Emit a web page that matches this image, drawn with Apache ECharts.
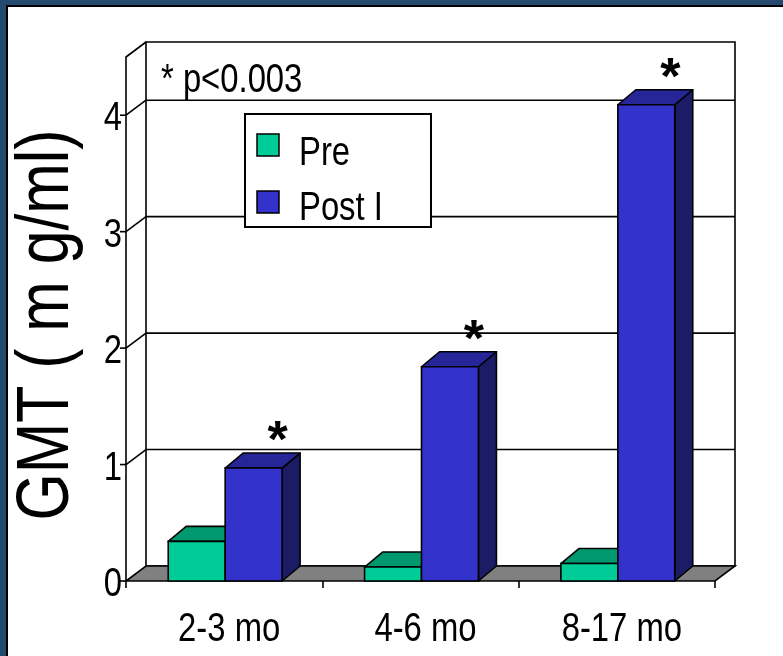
<!DOCTYPE html>
<html>
<head>
<meta charset="utf-8">
<script src="https://cdn.jsdelivr.net/npm/echarts@6/dist/echarts.min.js"></script>
<style>
  html, body { margin: 0; padding: 0; background: #ffffff; }
  #chart { width: 783px; height: 656px; }
</style>
</head>
<body>
<div id="chart"></div>
<script>
// Age groups and geometric mean titres before and after the first dose
const categories = ['2-3 mo', '4-6 mo', '8-17 mo'];
const preValues = [0.34, 0.12, 0.15];
const postValues = [0.97, 1.84, 4.09];
const yTicks = [0, 1, 2, 3, 4];
const yMax = 4.5;
const seriesNames = ['Pre', 'Post I'];
const yTitle = 'GMT ( m g/ml)';
const noteText = '* p<0.003';
const starText = '*';

const FONT = '"Liberation Sans", Arial, sans-serif';
const NARROW = 0.82;   // horizontal squeeze for the condensed lettering

// depth offsets of the pseudo-3D box and of the bars
const WALL_DX = 20, WALL_DY = -15;
const BAR_DX = 18, BAR_DY = -15;
const BAR_RATIO = 0.29;

const PRE_COLORS = { front: '#00CC99', top: '#00996F', side: '#006650' };
const POST_COLORS = { front: '#3333CC', top: '#262699', side: '#1C1C66' };

const chart = echarts.init(document.getElementById('chart'), null, { renderer: 'canvas' });

function lineEl(x1, y1, x2, y2, w) {
  return { type: 'line', shape: { x1, y1, x2, y2 }, style: { stroke: '#000', lineWidth: w || 1.6 } };
}

function narrowText(text, x, y, size, align, vAlign, extra) {
  const el = { type: 'text', x: x, y: y, scaleX: NARROW, scaleY: 1,
    style: { text: text, font: size + 'px ' + FONT, fill: '#000', align: align, verticalAlign: vAlign } };
  return Object.assign(el, extra || {});
}

// floor, back wall, side wall, grid lines and value labels
function renderFrame(params, api) {
  const band = api.size([1, 0])[0];
  const c0 = api.coord([0, 0]);
  const left = c0[0] - band / 2;
  const right = left + band * categories.length;
  const y0 = c0[1];
  const yTop = api.coord([0, yMax])[1];
  const children = [];
  children.push({ type: 'rect', shape: { x: left + WALL_DX, y: yTop + WALL_DY, width: right - left, height: y0 - yTop },
    style: { fill: '#fff', stroke: '#000', lineWidth: 1.6 } });
  children.push({ type: 'polygon', shape: { points: [[left, y0], [right, y0], [right + WALL_DX, y0 + WALL_DY], [left + WALL_DX, y0 + WALL_DY]] },
    style: { fill: '#808080', stroke: '#000', lineWidth: 1.6 } });
  yTicks.forEach(function (v) {
    const y = api.coord([0, v])[1];
    if (v > 0) {
      children.push(lineEl(left + WALL_DX, y + WALL_DY, right + WALL_DX, y + WALL_DY));
      children.push(lineEl(left, y, left + WALL_DX, y + WALL_DY));
    }
    children.push(lineEl(left - 6, y, left, y));
    children.push(narrowText(String(v), left - 4, y + 4, 40, 'right', 'middle'));
  });
  children.push(lineEl(left, yTop, left + WALL_DX, yTop + WALL_DY));
  return { type: 'group', children: children };
}

// category names under the floor
function renderCategoryLabel(params, api) {
  const idx = api.value(0);
  const c = api.coord([idx, 0]);
  return narrowText(categories[idx], c[0] + 5, c[1] + 49, 40, 'center', 'middle');
}

function makeBarRenderer(colors, side, withStar) {
  return function (params, api) {
    const idx = api.value(0);
    const val = api.value(1);
    const band = api.size([1, 0])[0];
    const c = api.coord([idx, 0]);
    const yB = c[1];
    const yT = api.coord([idx, val])[1];
    const w = band * BAR_RATIO;
    const xL = side < 0 ? c[0] - w + 1 : c[0] + 1;
    const xR = xL + w;
    const children = [
      { type: 'polygon', shape: { points: [[xR, yB], [xR, yT], [xR + BAR_DX, yT + BAR_DY], [xR + BAR_DX, yB + BAR_DY]] },
        style: { fill: colors.side, stroke: '#000', lineWidth: 1.6, lineJoin: 'round' } },
      { type: 'polygon', shape: { points: [[xL, yT], [xR, yT], [xR + BAR_DX, yT + BAR_DY], [xL + BAR_DX, yT + BAR_DY]] },
        style: { fill: colors.top, stroke: '#000', lineWidth: 1.6, lineJoin: 'round' } },
      { type: 'rect', shape: { x: xL, y: yT, width: w, height: yB - yT },
        style: { fill: colors.front, stroke: '#000', lineWidth: 1.6 } }
    ];
    if (withStar) {
      children.push({ type: 'text', x: xL + w / 2 + 24, y: yT + BAR_DY - 10,
        style: { text: starText, font: 'bold 52px ' + FONT, fill: '#000', align: 'center', verticalAlign: 'middle' } });
    }
    return { type: 'group', children: children };
  };
}

// legend box drawn from the series names and face colours
const legendColors = [PRE_COLORS.front, POST_COLORS.front];
function renderLegend(params, api) {
  const ox = 245, oy = 114;
  const children = [
    { type: 'rect', shape: { x: ox, y: oy, width: 186, height: 113 }, style: { fill: '#fff', stroke: '#000', lineWidth: 2 } }
  ];
  seriesNames.forEach(function (name, i) {
    children.push({ type: 'rect', shape: { x: ox + 12, y: oy + 20 + i * 57, width: 22, height: 22 },
      style: { fill: legendColors[i], stroke: '#000', lineWidth: 1.5 } });
    children.push(narrowText(name, ox + 54, oy + 40 + i * 55, 40, 'left', 'middle'));
  });
  return { type: 'group', children: children };
}

const option = {
  animation: false,
  backgroundColor: '#ffffff',
  grid: { left: 126, top: 57, width: 589, height: 524, containLabel: false, outerBoundsMode: 'none' },
  xAxis: {
    type: 'category', data: categories,
    axisLine: { show: false },
    axisTick: { show: true, length: 7, lineStyle: { color: '#000', width: 1.6 } },
    axisLabel: { show: false },
    splitLine: { show: false }
  },
  yAxis: {
    type: 'value', min: 0, max: yMax, interval: 1,
    axisLine: { show: true, lineStyle: { color: '#000', width: 1.6 } },
    axisTick: { show: false },
    axisLabel: { show: false },
    splitLine: { show: false }
  },
  graphic: [
    { type: 'rect', shape: { x: 0, y: 0, width: 783, height: 5 }, style: { fill: '#244B6F' }, z: 100 },
    { type: 'rect', shape: { x: 0, y: 0, width: 6, height: 656 }, style: { fill: '#244B6F' }, z: 100 },
    { type: 'rect', shape: { x: 6, y: 5, width: 777, height: 2 }, style: { fill: '#000' }, z: 100 },
    { type: 'rect', shape: { x: 6, y: 5, width: 2, height: 651 }, style: { fill: '#000' }, z: 100 },
    Object.assign(narrowText(noteText, 161, 61, 40, 'left', 'top'), { z: 50 }),
    Object.assign(narrowText(yTitle, 48, 325, 74, 'center', 'middle'), { rotation: Math.PI / 2, z: 50 })
  ],
  series: [
    { type: 'custom', name: 'frame', silent: true, z: 1, renderItem: renderFrame, data: [[0, 0]] },
    { type: 'custom', name: 'categoryLabels', silent: true, z: 1, renderItem: renderCategoryLabel,
      data: categories.map(function (c, i) { return [i]; }) },
    { type: 'custom', name: seriesNames[0], z: 2, renderItem: makeBarRenderer(PRE_COLORS, -1, false),
      data: preValues.map(function (v, i) { return [i, v]; }) },
    { type: 'custom', name: seriesNames[1], z: 3, renderItem: makeBarRenderer(POST_COLORS, 1, true),
      data: postValues.map(function (v, i) { return [i, v]; }) },
    { type: 'custom', name: 'legendBox', silent: true, z: 10, renderItem: renderLegend, data: [[0]] }
  ]
};
chart.setOption(option);
</script>
</body>
</html>
